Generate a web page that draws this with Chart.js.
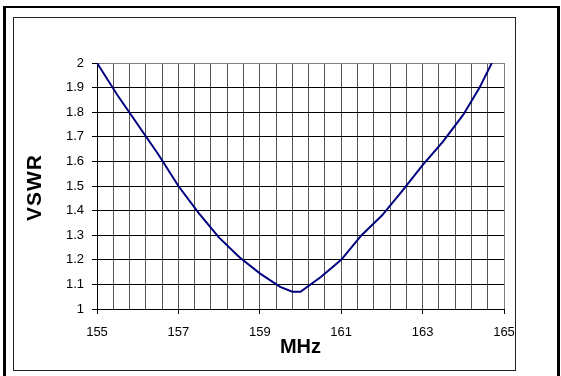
<!DOCTYPE html>
<html>
<head>
<meta charset="utf-8">
<script src="https://cdn.jsdelivr.net/npm/chart.js@4.4.1/dist/chart.umd.min.js"></script>
<style>
  html, body { margin: 0; padding: 0; background: #fff; }
  body { width: 561px; height: 376px; position: relative; overflow: hidden; }
  #outer { position: absolute; left: 3px; top: 6px; width: 551px; height: 380px; border-left: 3px solid #000; border-top: 2px solid #000; border-right: 3px solid #000; box-sizing: content-box; }
  #inner { position: absolute; left: 13px; top: 17px; width: 501px; height: 352px; border: 1px solid #222; }
  #wrap { position: absolute; left: 0; top: 0; width: 561px; height: 376px; }
</style>
</head>
<body>
<div id="outer"></div>
<div id="inner"></div>
<div id="wrap"><canvas id="c" width="561" height="376"></canvas></div>
<script>
const freqMHz = [155.0, 155.5, 156.0, 156.5, 157.0, 157.5, 158.0, 158.5, 159.0, 159.5, 159.8, 160.0, 160.5, 161.0, 161.5, 162.0, 162.5, 163.0, 163.5, 164.0, 164.4, 164.7];
const vswr    = [2.00, 1.87, 1.75, 1.63, 1.50, 1.39, 1.29, 1.21, 1.145, 1.09, 1.07, 1.07, 1.13, 1.20, 1.30, 1.38, 1.48, 1.585, 1.68, 1.79, 1.90, 2.00];
const xTickLabels = [155, 157, 159, 161, 163, 165];
const yTicks = [1, 1.1, 1.2, 1.3, 1.4, 1.5, 1.6, 1.7, 1.8, 1.9, 2];
const yTitle = 'VSWR';
const xTitle = 'MHz';

const points = freqMHz.map((f, i) => ({ x: f, y: vswr[i] }));
const isLabeled = v => xTickLabels.some(t => Math.abs(t - v) < 1e-6);
const FONT = 'Liberation Sans, Arial, sans-serif';

const yTitlePlugin = {
  id: 'yTitle',
  afterDraw(chart) {
    const ctx = chart.ctx;
    const area = chart.chartArea;
    ctx.save();
    ctx.fillStyle = '#000';
    ctx.font = 'bold 21px ' + FONT;
    if ('letterSpacing' in ctx) ctx.letterSpacing = '1px';
    ctx.textAlign = 'center';
    ctx.textBaseline = 'middle';
    ctx.translate(35, (area.top + area.bottom) / 2 + 2);
    ctx.rotate(-Math.PI / 2);
    ctx.fillText(yTitle, 0.5, 0);
    ctx.restore();
  }
};

new Chart(document.getElementById('c'), {
  type: 'line',
  data: {
    datasets: [{
      data: points,
      borderColor: '#000080',
      borderWidth: 2,
      pointRadius: 0,
      tension: 0,
      fill: false
    }]
  },
  plugins: [yTitlePlugin],
  options: {
    responsive: false,
    animation: false,
    events: [],
    plugins: { legend: { display: false }, tooltip: { enabled: false } },
    layout: { padding: { left: 23, top: 63, right: 57, bottom: 17 } },
    scales: {
      x: {
        type: 'linear',
        min: 155, max: 165,
        afterFit: s => { s.height = 50; },
        ticks: {
          stepSize: 0.4,
          autoSkip: false,
          maxRotation: 0,
          padding: 11,
          color: '#000',
          font: { family: FONT, size: 13 },
          callback: v => isLabeled(v) ? String(Math.round(v)) : ''
        },
        grid: {
          color: ctx => (ctx.tick && Math.abs(ctx.tick.value - 165) < 1e-6) ? '#808080' : '#555',
          lineWidth: 1,
          tickLength: 5,
          tickColor: ctx => (ctx.tick && isLabeled(ctx.tick.value)) ? '#000' : 'rgba(0,0,0,0)'
        },
        border: { color: '#000', width: 1 },
        title: {
          display: true, text: xTitle, color: '#000',
          padding: 0,
          font: { family: FONT, size: 20, weight: 'bold' }
        }
      },
      y: {
        type: 'linear',
        min: 1, max: 2,
        afterFit: s => { s.width = 74; },
        afterBuildTicks: s => { s.ticks = yTicks.map(v => ({ value: v })); },
        ticks: {
          padding: 8,
          color: '#000',
          font: { family: FONT, size: 13 },
          callback: v => String(Math.round(v * 10) / 10)
        },
        grid: {
          color: ctx => (ctx.tick && Math.abs(ctx.tick.value - 2) < 1e-6) ? '#808080' : '#000',
          lineWidth: 1,
          tickLength: 5,
          tickColor: '#000'
        },
        border: { color: '#000', width: 1 }
      }
    }
  }
});
</script>
</body>
</html>
